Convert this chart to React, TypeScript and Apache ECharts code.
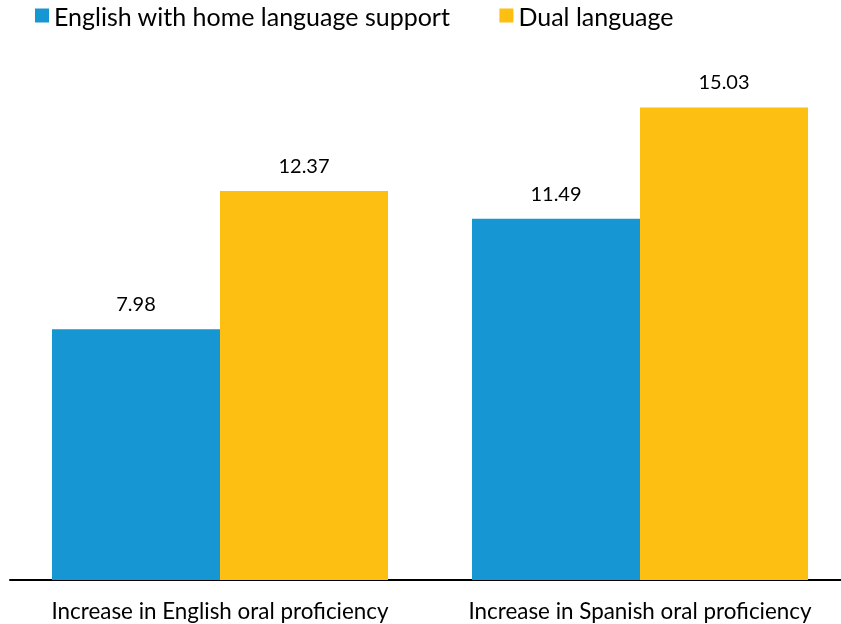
import React, { useEffect, useRef } from "react";
import * as echarts from "echarts";

const categories = ["Increase in English oral proficiency", "Increase in Spanish oral proficiency"];
const seriesNames = ["English with home language support", "Dual language"];
const englishSupport = [7.98, 11.49];
const dualLanguage = [12.37, 15.03];
const colors = ["#1696d2", "#fdbf11"];

export default function App() {
  const ref = useRef<HTMLDivElement>(null);
  useEffect(() => {
    const chart = echarts.init(ref.current!, null, { renderer: "svg" });
    const font = "Lato";
    const label = {
      show: true,
      position: "top",
      distance: 16,
      fontFamily: font,
      fontSize: 20,
      color: "#000",
      formatter: (p: any) => p.value.toFixed(2),
    };
    chart.setOption({
      animation: false,
      textStyle: { fontFamily: font },
      legend: {
        left: 30,
        top: -2,
        icon: "rect",
        itemWidth: 14,
        itemHeight: 14,
        itemGap: 49,
        textStyle: { fontFamily: font, fontSize: 25, color: "#000" },
        data: seriesNames,
      },
      grid: { left: 10, width: 840, top: 77, bottom: 44, containLabel: false, outerBoundsMode: "none" },
      xAxis: {
        type: "category",
        data: categories,
        axisLine: { lineStyle: { color: "#000", width: 2 } },
        axisTick: { show: false },
        axisLabel: { fontFamily: font, fontSize: 22.4, color: "#000", margin: 19, interval: 0 },
      },
      yAxis: { type: "value", min: 0, max: 16, show: false, splitLine: { show: false } },
      series: [
        {
          name: seriesNames[0],
          type: "bar",
          data: englishSupport,
          itemStyle: { color: colors[0] },
          barGap: "0%",
          barCategoryGap: "20%",
          label,
        },
        {
          name: seriesNames[1],
          type: "bar",
          data: dualLanguage,
          itemStyle: { color: colors[1] },
          barGap: "0%",
          barCategoryGap: "20%",
          label,
        },
      ],
    });
    return () => chart.dispose();
  }, []);
  return <div ref={ref} style={{ position: "fixed", left: 0, top: 0, width: 841, height: 624 }} />;
}
